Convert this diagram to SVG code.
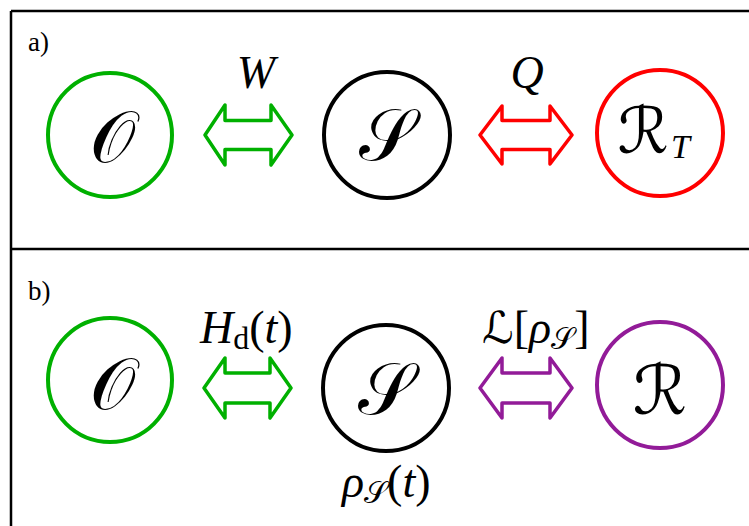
<svg xmlns="http://www.w3.org/2000/svg" width="749" height="526" viewBox="0 0 749 526">
<style>
.frame{fill:none;stroke:#000;stroke-width:2.5}
.node{fill:none;stroke-width:4}
.arr{stroke-width:3.5;stroke-linejoin:round;fill:none}
.lbl{font-family:'Liberation Serif','Times New Roman',serif;font-size:27px;fill:#000}
.cal{font-family:'DejaVu Sans','Noto Sans',serif;font-size:72px;fill:#000}
.mid{text-anchor:middle}
.math{font-family:'Liberation Serif','Times New Roman',serif;font-size:46px;fill:#000}
.it{font-style:italic}
</style>
<rect width="749" height="526" fill="#fff"/>
<g id="frame">
<line class="frame" x1="11" y1="11" x2="749" y2="11"/>
<line class="frame" x1="11" y1="11" x2="11" y2="526"/>
<line class="frame" x1="11" y1="249" x2="749" y2="249"/>
<text class="lbl" x="28" y="51">a)</text>
<text class="lbl" x="28" y="300">b)</text>
</g>
<g id="O-a"><circle class="node" cx="110" cy="135" r="62" stroke="#00b000"/><text class="cal mid" x="112" y="162">𝒪</text></g>
<g id="S-a"><circle class="node" cx="387" cy="135" r="63" stroke="#000"/><text class="cal mid" x="387" y="160">𝒮</text></g>
<g id="RT-a"><circle class="node" cx="660" cy="133" r="63" stroke="#ff0000"/><text class="cal mid" x="643" y="153" style="font-size:64px">ℛ</text><text class="math it" x="671" y="158" style="font-size:34px">T</text></g>
<g id="O-b"><circle class="node" cx="110" cy="380" r="62" stroke="#00b000"/><text class="cal mid" x="112" y="409">𝒪</text></g>
<g id="S-b"><circle class="node" cx="386" cy="388" r="63" stroke="#000"/><text class="cal mid" x="386" y="414">𝒮</text></g>
<g id="R-b"><circle class="node" cx="660" cy="385" r="63" stroke="#921b98"/><text class="cal mid" x="660" y="414" style="font-size:68px">ℛ</text></g>
<g id="connectors">
<path class="arr" stroke="#00b000" d="M205,135 L225,105 L225,120.5 L271,120.5 L271,105 L292,135 L271,165 L271,149.5 L225,149.5 L225,165 Z"/>
<path class="arr" stroke="#ff0000" d="M480,135 L502,106 L502,120.5 L550,120.5 L550,106 L572,135 L550,164 L550,149.5 L502,149.5 L502,164 Z"/>
<path class="arr" stroke="#00b000" d="M204,388 L225,358 L225,373 L270,373 L270,358 L291,388 L270,418 L270,403 L225,403 L225,418 Z"/>
<path class="arr" stroke="#921b98" d="M480,388 L502,358 L502,373 L550,373 L550,358 L572,388 L550,418 L550,403 L502,403 L502,418 Z"/>
</g>
<g id="labels">
<text class="math it mid" x="256" y="88">W</text>
<text class="math it mid" x="527" y="88">Q</text>
<text class="math" x="200" y="343"><tspan class="it">H</tspan><tspan dy="6" style="font-size:32px">d</tspan><tspan dy="-6">(</tspan><tspan class="it">t</tspan>)</text>
<text class="math" x="482" y="343"><tspan class="cal" style="font-size:44px">ℒ</tspan>[<tspan class="it">ρ</tspan><tspan class="cal" dy="6" style="font-size:30px">𝒮</tspan><tspan dy="-6">]</tspan></text>
<text class="math" x="342" y="497"><tspan class="it">ρ</tspan><tspan class="cal" dy="6" style="font-size:30px">𝒮</tspan><tspan dy="-6">(</tspan><tspan class="it">t</tspan>)</text>
</g>
</svg>
